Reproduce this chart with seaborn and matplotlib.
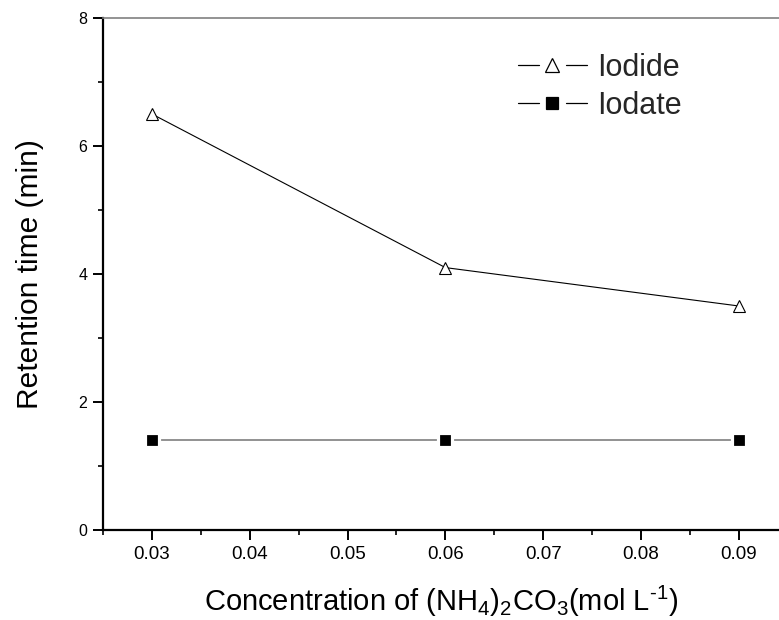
import matplotlib
matplotlib.use("Agg")
import matplotlib.pyplot as plt
import seaborn as sns
import pandas as pd
from matplotlib.lines import Line2D
from matplotlib.legend_handler import HandlerBase
from matplotlib.ticker import MultipleLocator

# Data
concentration = [0.03, 0.06, 0.09]
iodide_rt = [6.5, 4.1, 3.5]
iodate_rt = [1.4, 1.4, 1.4]
series_names = ["Iodide", "Iodate"]
x_ticks = [0.03, 0.04, 0.05, 0.06, 0.07, 0.08, 0.09]
y_ticks = [0, 2, 4, 6, 8]

sns.set_theme(style="ticks")
plt.rcParams["font.family"] = ["Liberation Sans", "DejaVu Sans"]
plt.rcParams["mathtext.fontset"] = "custom"
plt.rcParams["mathtext.rm"] = "Liberation Sans"
plt.rcParams["mathtext.it"] = "Liberation Sans"
plt.rcParams["xtick.labelsize"] = 13.5
plt.rcParams["ytick.labelsize"] = 11.5

df = pd.DataFrame({
    "conc": concentration * 2,
    "rt": iodide_rt + iodate_rt,
    "ion": [series_names[0]] * 3 + [series_names[1]] * 3,
})

fig = plt.figure(figsize=(7.79, 6.2), dpi=100)
ax = fig.add_axes([103 / 779, 1 - 530 / 620, 1 - 103 / 779, (530 - 18) / 620])

sns.lineplot(data=df[df.ion == "Iodide"], x="conc", y="rt", ax=ax,
             color="black", linewidth=0.8, marker="^", markersize=8,
             markerfacecolor="white", markeredgecolor="black",
             markeredgewidth=0.8, legend=False)
sns.lineplot(data=df[df.ion == "Iodate"], x="conc", y="rt", ax=ax,
             color="#7f7f7f", linewidth=1.2, marker="s", markersize=9.5,
             markerfacecolor="black", markeredgecolor="white",
             markeredgewidth=2.3, legend=False)

ax.set_xlim(0.025, 0.0941)
ax.set_ylim(0, 8)
ax.set_xticks(x_ticks)
ax.set_xticklabels([f"{v:.2f}" for v in x_ticks], fontsize=13.5)
ax.set_yticks(y_ticks)
ax.set_yticklabels([str(v) for v in y_ticks], fontsize=11.5)
ax.xaxis.set_minor_locator(MultipleLocator(0.005))
ax.yaxis.set_minor_locator(MultipleLocator(1))

ax.tick_params(which="major", direction="out", length=7.2, width=1.4,
               color="black", labelcolor="black")
ax.tick_params(which="minor", direction="out", length=3.6, width=1.2, color="black")
ax.tick_params(axis="x", which="major", pad=4.5)
ax.tick_params(axis="y", which="major", pad=4)
ax.tick_params(top=False, right=False, which="both")

for side in ("left", "bottom"):
    ax.spines[side].set_linewidth(1.6)
    ax.spines[side].set_color("black")
ax.spines["top"].set_color("#808080")
ax.spines["top"].set_linewidth(1.2)
ax.spines["right"].set_visible(False)

ax.set_xlabel(r"Concentration of (NH$_4$)$_2$CO$_3$(mol L$^{\text{-}1}$)",
              fontsize=21, color="black")
ax.set_ylabel("Retention time (min)", fontsize=21.5, color="black")
ax.xaxis.set_label_coords(0.5, -0.106)
ax.yaxis.set_label_coords(-0.087, 0.5)


class GapLineHandler(HandlerBase):
    """Legend handle: line segment, marker, line segment with gaps."""

    def create_artists(self, legend, orig, xdescent, ydescent, width, height,
                       fontsize, trans):
        y = height / 2 - ydescent
        x0 = -xdescent
        x1 = x0 + width
        xm = (x0 + x1) / 2
        gap = 0.2 * width
        l1 = Line2D([x0, xm - gap], [y, y], color="black", lw=0.9)
        l2 = Line2D([xm + gap, x1], [y, y], color="black", lw=0.9)
        m = Line2D([xm], [y], linestyle="none", marker=orig.get_marker(),
                   markersize=orig.get_markersize(),
                   markerfacecolor=orig.get_markerfacecolor(),
                   markeredgecolor="black", markeredgewidth=0.9)
        for a in (l1, l2, m):
            a.set_transform(trans)
        return [l1, l2, m]


handles = [
    Line2D([], [], marker="^", markersize=10, markerfacecolor="white"),
    Line2D([], [], marker="s", markersize=8, markerfacecolor="black"),
]
ax.legend(handles, series_names, loc="upper left",
          bbox_to_anchor=((518 - 103) / 676, 1 - (53 - 18) / 512),
          frameon=False, fontsize=22, handlelength=2.25, handletextpad=0.33,
          labelspacing=0.25, borderaxespad=0, borderpad=0,
          handler_map={Line2D: GapLineHandler()})

fig.savefig("out.png", dpi=100)
